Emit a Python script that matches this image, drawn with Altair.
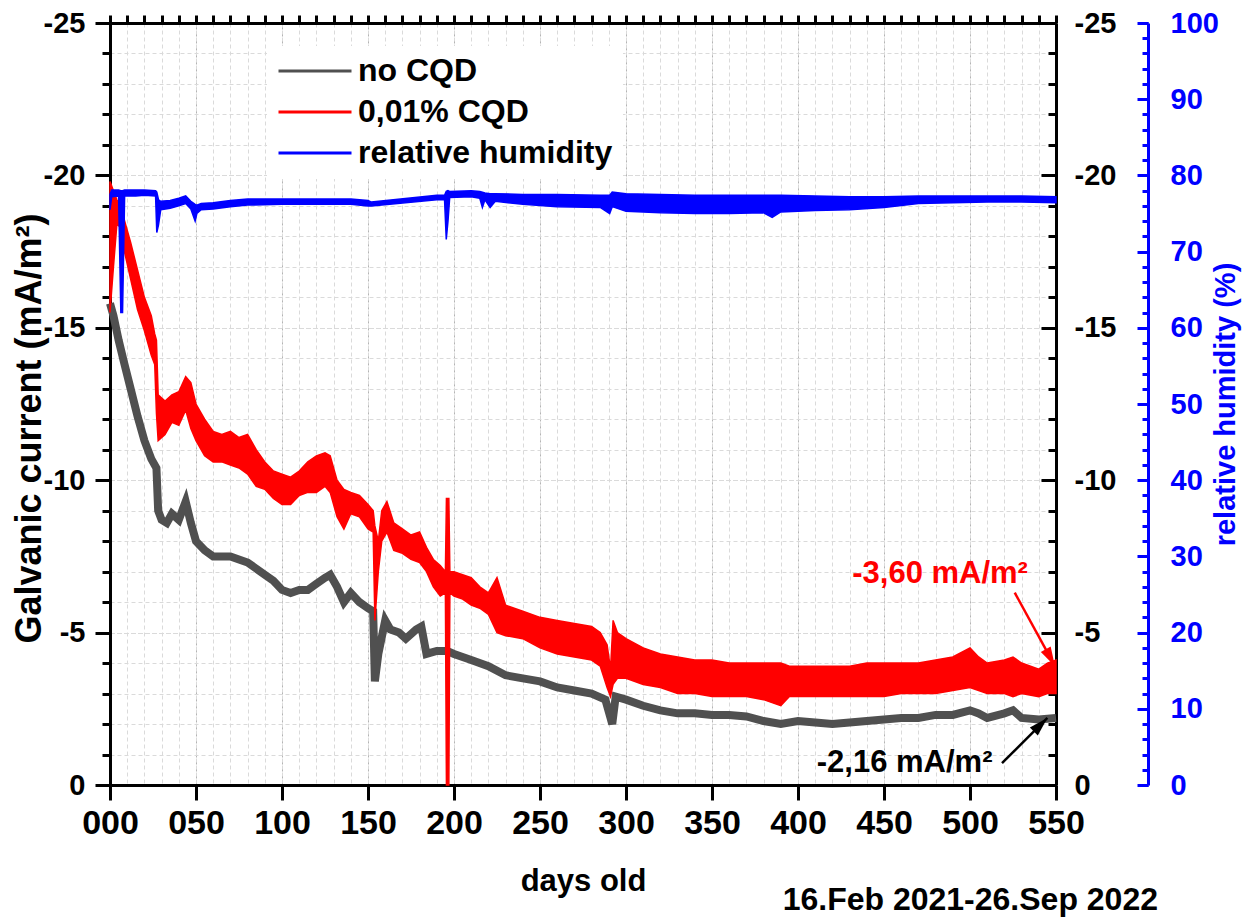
import altair as alt
import pandas as pd

# ---------------- tick values ----------------
X_MAJOR = list(range(0, 551, 50))
X_MINOR = list(range(0, 551, 10))
Y_MAJOR = list(range(-25, 1, 5))
Y_MINOR = list(range(-25, 1, 1))
RH_MAJOR = list(range(0, 101, 10))
RH_MINOR = list(range(0, 101, 2))

# ---------------- no CQD (grey) ----------------
gray_day = [0, 2, 5, 8, 12, 16, 20, 24, 27, 28,
            30, 33, 36, 40, 44, 47, 50, 55, 60, 70,
            80, 90, 95, 100, 105, 110, 115, 120, 125, 128,
            132, 136, 140, 145, 150, 153, 154, 156, 160, 163,
            168, 172, 178, 181, 184, 190, 196, 200, 205, 210,
            220, 230, 240, 250, 260, 270, 280, 288, 291, 292,
            294, 300, 310, 320, 330, 340, 350, 360, 370, 380,
            390, 400, 410, 420, 430, 440, 450, 460, 470, 480,
            490, 500, 505, 510, 520, 525, 530, 540, 550]
gray_val = [-15.8, -15.4, -14.6, -13.9, -13.0, -12.1, -11.3, -10.7, -10.4, -9.0,
            -8.7, -8.6, -8.9, -8.7, -9.3, -8.6, -8.0, -7.7, -7.5, -7.5,
            -7.3, -6.9, -6.7, -6.4, -6.3, -6.4, -6.4, -6.6, -6.8, -6.9,
            -6.5, -6.0, -6.3, -6.0, -5.8, -5.7, -3.4, -4.3, -5.4, -5.1,
            -5.0, -4.8, -5.1, -5.2, -4.3, -4.4, -4.4, -4.3, -4.2, -4.1,
            -3.9, -3.6, -3.5, -3.4, -3.2, -3.1, -3.0, -2.8, -2.2, -2.0,
            -2.9, -2.8, -2.6, -2.45, -2.35, -2.35, -2.3, -2.3, -2.25, -2.1,
            -2.0, -2.1, -2.05, -2.0, -2.05, -2.1, -2.15, -2.2, -2.2, -2.3,
            -2.3, -2.45, -2.35, -2.2, -2.35, -2.45, -2.2, -2.15, -2.2]

# ---------------- 0,01% CQD (red band) ----------------
red_day = [0, 2, 4, 6, 8, 12, 16, 20, 24, 26,
           27, 28, 32, 36, 40, 44, 47, 50, 55, 60,
           65, 70, 75, 80, 85, 90, 95, 100, 105, 110,
           115, 120, 125, 128, 132, 136, 140, 145, 150, 153,
           154, 156, 158, 161, 165, 170, 175, 180, 184, 188,
           192, 195, 195.6, 197.0, 197.6, 200, 205, 210, 215, 220,
           225, 230, 240, 250, 260, 270, 280, 285, 289, 291,
           292.5, 295, 300, 310, 320, 330, 340, 350, 360, 370,
           380, 390, 395, 400, 410, 420, 430, 440, 450, 460,
           470, 480, 490, 500, 505, 510, 520, 525, 530, 540,
           545, 550]
red_low = [-15.5, -17.0, -18.4, -18.3, -17.6, -16.6, -15.6, -14.9, -14.1, -13.8,
           -12.2, -11.3, -11.5, -11.9, -11.8, -12.3, -11.7, -11.3, -10.8, -10.6,
           -10.6, -10.5, -10.4, -10.2, -9.8, -9.7, -9.4, -9.2, -9.2, -9.5,
           -9.6, -9.6, -9.8, -9.6, -8.8, -8.4, -8.9, -8.8, -8.4, -8.3,
           -5.4, -7.0, -8.0, -8.3, -7.7, -7.6, -7.4, -7.3, -7.0, -6.5,
           -6.2, -6.3, 0.0, 0.0, -6.3, -6.2, -6.1, -5.9, -5.8, -5.6,
           -5.0, -4.9, -4.8, -4.5, -4.3, -4.2, -4.1, -3.9, -3.2, -2.9,
           -3.3, -3.5, -3.5, -3.3, -3.2, -3.0, -3.0, -2.9, -2.9, -2.9,
           -2.8, -2.6, -2.9, -2.9, -2.9, -2.9, -2.9, -2.9, -2.9, -3.0,
           -3.0, -3.0, -3.1, -3.2, -3.1, -3.0, -3.0, -2.9, -3.0, -2.9,
           -3.0, -3.0]
red_high = [-19.8, -19.5, -19.2, -19.0, -18.6, -17.8, -16.9, -16.0, -15.4, -14.8,
            -14.6, -12.8, -12.6, -12.8, -12.9, -13.4, -13.2, -12.5, -12.0, -11.6,
            -11.5, -11.6, -11.4, -11.5, -11.0, -10.6, -10.3, -10.2, -10.1, -10.3,
            -10.6, -10.8, -10.9, -10.8, -10.0, -9.7, -9.6, -9.5, -9.2, -9.0,
            -8.5, -8.0, -9.0, -9.3, -8.6, -8.4, -8.2, -8.3, -7.8, -7.4,
            -7.2, -7.0, -9.4, -9.4, -7.0, -7.0, -6.9, -6.8, -6.5, -6.3,
            -6.8, -5.9, -5.7, -5.5, -5.4, -5.3, -5.2, -5.0, -4.6, -3.8,
            -5.4, -5.0, -4.8, -4.5, -4.3, -4.2, -4.1, -4.1, -4.0, -4.0,
            -4.0, -4.0, -3.9, -3.9, -3.9, -3.9, -3.9, -4.0, -4.0, -4.0,
            -4.0, -4.1, -4.2, -4.5, -4.2, -4.0, -4.1, -4.2, -4.0, -3.8,
            -4.0, -4.1]

# ---------------- relative humidity (blue band, %) ----------------
rh_day = [0, 1, 5, 6.3, 7.3, 8.5, 15, 20, 26.5, 27.2,
          28.2, 29.5, 35, 40, 44, 47, 49.5, 50.5, 53, 60,
          70, 80, 100, 120, 140, 150, 152, 190, 194.5, 195.5,
          196.5, 197.5, 210, 215, 216.5, 218, 221, 224, 240, 260,
          285, 290.5, 292, 300, 320, 340, 360, 380, 385, 390,
          410, 430, 450, 470, 490, 510, 530, 550]
rh_low = [75.5, 77.2, 77.3, 62.0, 62.0, 77.3, 77.3, 77.4, 77.3, 72.5,
          73.5, 75.5, 75.7, 76.0, 76.3, 75.6, 74.0, 75.0, 75.5, 75.6,
          75.9, 76.1, 76.2, 76.2, 76.2, 76.0, 76.0, 76.8, 76.8, 71.6,
          74.0, 77.1, 77.2, 77.0, 75.8, 76.8, 75.8, 76.6, 76.2, 75.9,
          75.8, 75.0, 75.9, 75.3, 75.1, 75.0, 75.0, 75.1, 74.5, 75.2,
          75.4, 75.5, 75.8, 76.3, 76.4, 76.5, 76.5, 76.4]
rh_high = [77.5, 78.1, 78.1, 78.0, 78.0, 78.1, 78.1, 78.1, 78.0, 77.8,
           76.8, 76.6, 76.7, 77.0, 77.3, 76.6, 76.2, 76.1, 76.3, 76.4,
           76.7, 76.9, 76.9, 76.9, 76.9, 76.7, 76.5, 77.4, 77.4, 77.9,
           78.0, 77.9, 78.0, 77.9, 77.8, 77.7, 77.6, 77.6, 77.5, 77.5,
           77.4, 77.4, 77.8, 77.6, 77.5, 77.4, 77.4, 77.4, 77.4, 77.4,
           77.3, 77.2, 77.2, 77.3, 77.3, 77.3, 77.3, 77.2]

# ---------------- legend ----------------
legend_names = ["no CQD", "0,01% CQD", "relative humidity"]
legend_colors = ["#505050", "#ff0000", "#0000ff"]

# ---------------- annotations ----------------
ann_text = ["-3,60 mA/m²", "-2,16 mA/m²"]
ann_day = [482.6, 462.0]
ann_val = [-6.93, -0.72]
ann_color = ["#ff0000", "#000000"]
arrow_day0 = [526.0, 518.6]
arrow_val0 = [-6.31, -0.72]
arrow_day1 = [549.4, 545.0]
arrow_val1 = [-3.9, -2.2]
arrow_angle = [331.3, 225.0]

gray = pd.DataFrame({"day": gray_day, "value": gray_val, "series": "no CQD"})
red = pd.DataFrame({"day": red_day, "low": red_low, "high": red_high})
rh = pd.DataFrame({"day": rh_day, "low": rh_low, "high": rh_high})
ann = pd.DataFrame({"day": ann_day, "value": ann_val, "text": ann_text, "c": ann_color,
                    "d0": arrow_day0, "v0": arrow_val0, "d1": arrow_day1, "v1": arrow_val1,
                    "ang": arrow_angle})

FONT = "Liberation Sans"
NARROW = "Liberation Sans Narrow, Arial Narrow, Liberation Sans"
GRID_MINOR = "#dadada"
GRID_MAJOR = "#b4b4b4"
LAB = "toString(datum.value)"
BLUE = "#0000ff"


def xs():
    return alt.Scale(domain=[0, 550], nice=False, zero=False)


def cur():
    return alt.Scale(domain=[-25, 0], reverse=True, nice=False, zero=False)


def rhs():
    return alt.Scale(domain=[0, 100], nice=False, zero=False)


def xnone():
    return alt.X("day:Q", scale=xs(), axis=None)


# right black axis: inward ticks + labels
inv_r_major = alt.Chart(gray).mark_point(opacity=0).encode(
    x=xnone(),
    y=alt.Y("value:Q", scale=cur(), axis=alt.Axis(
        orient="right", values=Y_MAJOR, offset=-15, tickSize=15, domain=False, grid=False,
        labelExpr=LAB, labelFontSize=29, labelPadding=18, title=None,
        labelOverlap=False, labelFlush=False, labelBound=False)))
inv_r_minor = alt.Chart(gray).mark_point(opacity=0).encode(
    x=xnone(),
    y=alt.Y("value:Q", scale=cur(), axis=alt.Axis(
        orient="right", values=Y_MINOR, offset=-8, tickSize=8, domain=False, grid=False,
        labels=False, title=None)))
inv_r_domain = alt.Chart(gray).mark_point(opacity=0).encode(
    x=xnone(),
    y=alt.Y("value:Q", scale=cur(), axis=alt.Axis(
        orient="right", values=Y_MAJOR, offset=0, ticks=False, domain=True, grid=False,
        labels=False, title=None)))

# blue humidity axis helpers
inv_rh_minor = alt.Chart(rh).mark_point(opacity=0).encode(
    x=xnone(),
    y=alt.Y("low:Q", scale=rhs(), axis=alt.Axis(
        orient="right", values=RH_MINOR, offset=86, tickSize=6, domain=False, grid=False,
        labels=False, title=None, tickColor=BLUE)))
inv_rh_domain = alt.Chart(rh).mark_point(opacity=0).encode(
    x=xnone(),
    y=alt.Y("low:Q", scale=rhs(), axis=alt.Axis(
        orient="right", values=RH_MAJOR, offset=92, ticks=False, domain=True, grid=False,
        labels=False, title=None, domainColor=BLUE)))

gray_line = alt.Chart(gray).mark_line(strokeWidth=8).encode(
    x=alt.X("day:Q", scale=xs(), axis=alt.Axis(
        values=X_MAJOR, format="03d", tickSize=15, labelFont=NARROW, labelFontSize=34,
        labelPadding=6, title="days old", titleFontSize=31, titlePadding=26, grid=True,
        gridColor=GRID_MAJOR, labelFlush=False, labelOverlap=False, labelBound=False)),
    y=alt.Y("value:Q", scale=cur(), axis=alt.Axis(
        orient="left", values=Y_MAJOR, tickSize=15, labelExpr=LAB, labelFontSize=29,
        labelPadding=10, title="Galvanic current (mA/m²)", titleFontSize=36, titlePadding=-5,
        titleY=405, grid=True, gridColor=GRID_MAJOR, labelFlush=False, labelOverlap=False,
        labelBound=False)),
    color=alt.Color("series:N", scale=alt.Scale(domain=legend_names, range=legend_colors),
                    legend=alt.Legend(
                        title=None, orient="none", legendX=157, legendY=23, fillColor="white",
                        padding=10, symbolType="stroke", symbolStrokeWidth=3, symbolSize=5329,
                        clipHeight=30, rowPadding=9, labelFontSize=32, labelFont=FONT,
                        labelFontWeight="bold", labelColor="black", labelOffset=5,
                        labelLimit=400, symbolOpacity=1)),
)

red_area = alt.Chart(red).mark_area(color="#ff0000", stroke="#ff0000", strokeWidth=1.5,
                                    opacity=1).encode(
    x=alt.X("day:Q", scale=xs(), axis=alt.Axis(
        values=X_MINOR, tickSize=8, labels=False, domain=True, title=None, grid=True,
        gridColor=GRID_MINOR)),
    y=alt.Y("low:Q", scale=cur(), axis=alt.Axis(
        orient="left", values=Y_MINOR, tickSize=8, labels=False, domain=True, title=None,
        grid=True, gridColor=GRID_MINOR)),
    y2="high:Q",
)

rh_area = alt.Chart(rh).mark_area(color=BLUE, stroke=BLUE, strokeWidth=1.5, opacity=1).encode(
    x=xnone(),
    y=alt.Y("low:Q", scale=rhs(), axis=alt.Axis(
        orient="right", values=RH_MAJOR, offset=81, tickSize=11, domain=False, grid=False,
        labelFontSize=29, labelPadding=22, labelColor=BLUE, tickColor=BLUE,
        title="relative humidity (%)", titleColor=BLUE, titleFontSize=29, titleAngle=270,
        titlePadding=22, labelOverlap=False, labelFlush=False, labelBound=False)),
    y2="high:Q",
)

ann_text_layer = alt.Chart(ann).mark_text(font=FONT, fontSize=31, fontWeight="bold").encode(
    x=xnone(),
    y=alt.Y("value:Q", scale=cur(), axis=None),
    text="text:N",
    color=alt.Color("c:N", scale=None),
)
arrow_head = alt.Chart(ann).mark_point(
    shape="M0,0L-0.7,-2.4L0.7,-2.4Z", filled=True, size=256, opacity=1).encode(
    x=alt.X("d1:Q", scale=xs(), axis=None),
    y=alt.Y("v1:Q", scale=cur(), axis=None),
    angle=alt.Angle("ang:Q", scale=None),
    color=alt.Color("c:N", scale=None),
)
arrow_line = alt.Chart(ann).mark_rule(strokeWidth=2.5).encode(
    x=alt.X("d0:Q", scale=xs(), axis=None), x2="d1:Q",
    y=alt.Y("v0:Q", scale=cur(), axis=None), y2="v1:Q",
    color=alt.Color("c:N", scale=None),
)

chart = alt.layer(
    inv_r_major, inv_r_minor, inv_r_domain, inv_rh_minor, inv_rh_domain,
    gray_line, red_area, rh_area, ann_text_layer, arrow_line, arrow_head,
).resolve_scale(
    y="independent", color="independent", angle="independent"
).resolve_axis(
    y="independent", x="independent"
).properties(
    width=946, height=762,
    padding={"left": 110, "top": 23, "right": 190, "bottom": 135},
    autosize=alt.AutoSizeParams(type="none"),
    title=alt.TitleParams(text="16.Feb 2021-26.Sep 2022", orient="bottom", anchor="end",
                          frame="group", dx=102, offset=-11, fontSize=32, font=FONT,
                          fontWeight="bold", color="black"),
).configure_view(stroke=None).configure_axis(
    labelFont=FONT, titleFont=FONT, labelFontWeight="bold", titleFontWeight="bold",
    labelColor="black", titleColor="black", domainColor="black", tickColor="black",
    domainWidth=3, tickWidth=3, gridDash=[4, 3], gridWidth=1,
)

chart.save("out.html", embed_options={"renderer": "svg", "actions": False})
